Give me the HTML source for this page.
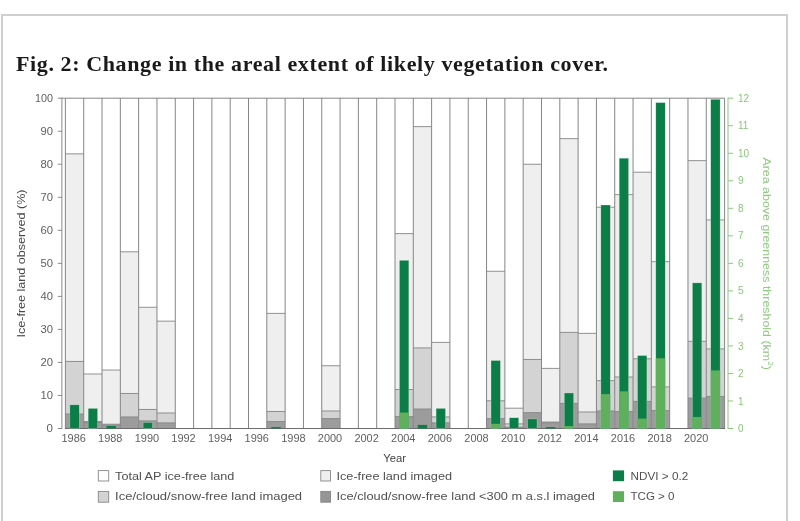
<!DOCTYPE html>
<html><head><meta charset="utf-8"><title>Fig. 2</title>
<style>
html,body{margin:0;padding:0;background:#fff;}
body{width:800px;height:521px;overflow:hidden;position:relative;font-family:"Liberation Sans",sans-serif;}
.frame{position:absolute;left:1px;top:14px;width:783px;height:600px;border:2px solid #cfcfcf;box-sizing:content-box;}
h1{position:absolute;left:16px;top:51px;margin:0;font-family:"Liberation Serif",serif;font-weight:bold;font-size:22px;line-height:26px;color:#1a1a1a;white-space:nowrap;letter-spacing:0.61px;will-change:transform;opacity:0.999;}
</style></head><body>
<div class="frame"></div>
<h1 id="ttl">Fig. 2: Change in the areal extent of likely vegetation cover.</h1>
<svg width="800" height="521" viewBox="0 0 800 521" style="position:absolute;left:0;top:0;will-change:transform;opacity:0.999">
<g shape-rendering="auto">
<rect x="65.4" y="153.86" width="18.31" height="274.64" fill="#efefef"/>
<rect x="65.4" y="361.45" width="18.31" height="67.05" fill="#d3d3d3"/>
<rect x="65.4" y="413.97" width="18.31" height="14.53" fill="#9c9c9c"/>
<line x1="65.4" y1="153.86" x2="83.71" y2="153.86" stroke="#868686" stroke-width="0.9"/>
<line x1="65.4" y1="361.45" x2="83.71" y2="361.45" stroke="#868686" stroke-width="0.9"/>
<line x1="65.4" y1="413.97" x2="83.71" y2="413.97" stroke="#868686" stroke-width="0.9"/>
<rect x="83.71" y="374" width="18.31" height="54.5" fill="#efefef"/>
<rect x="83.71" y="421.56" width="18.31" height="6.94" fill="#d3d3d3"/>
<rect x="83.71" y="422.55" width="18.31" height="5.95" fill="#9c9c9c"/>
<line x1="83.71" y1="374" x2="102.02" y2="374" stroke="#868686" stroke-width="0.9"/>
<line x1="83.71" y1="421.56" x2="102.02" y2="421.56" stroke="#868686" stroke-width="0.9"/>
<line x1="83.71" y1="422.55" x2="102.02" y2="422.55" stroke="#868686" stroke-width="0.9"/>
<rect x="102.02" y="370.04" width="18.31" height="58.46" fill="#efefef"/>
<rect x="102.02" y="424.21" width="18.31" height="4.29" fill="#d3d3d3"/>
<rect x="102.02" y="425" width="18.31" height="3.5" fill="#9c9c9c"/>
<line x1="102.02" y1="370.04" x2="120.33" y2="370.04" stroke="#868686" stroke-width="0.9"/>
<line x1="102.02" y1="424.21" x2="120.33" y2="424.21" stroke="#868686" stroke-width="0.9"/>
<line x1="102.02" y1="425" x2="120.33" y2="425" stroke="#868686" stroke-width="0.9"/>
<rect x="120.33" y="251.79" width="18.31" height="176.71" fill="#efefef"/>
<rect x="120.33" y="393.49" width="18.31" height="35.01" fill="#d3d3d3"/>
<rect x="120.33" y="416.94" width="18.31" height="11.56" fill="#9c9c9c"/>
<line x1="120.33" y1="251.79" x2="138.64" y2="251.79" stroke="#868686" stroke-width="0.9"/>
<line x1="120.33" y1="393.49" x2="138.64" y2="393.49" stroke="#868686" stroke-width="0.9"/>
<line x1="120.33" y1="416.94" x2="138.64" y2="416.94" stroke="#868686" stroke-width="0.9"/>
<rect x="138.64" y="307.28" width="18.31" height="121.22" fill="#efefef"/>
<rect x="138.64" y="409.47" width="18.31" height="19.03" fill="#d3d3d3"/>
<rect x="138.64" y="420.9" width="18.31" height="7.6" fill="#9c9c9c"/>
<line x1="138.64" y1="307.28" x2="156.96" y2="307.28" stroke="#868686" stroke-width="0.9"/>
<line x1="138.64" y1="409.47" x2="156.96" y2="409.47" stroke="#868686" stroke-width="0.9"/>
<line x1="138.64" y1="420.9" x2="156.96" y2="420.9" stroke="#868686" stroke-width="0.9"/>
<rect x="156.96" y="321.15" width="18.31" height="107.35" fill="#efefef"/>
<rect x="156.96" y="412.98" width="18.31" height="15.52" fill="#d3d3d3"/>
<rect x="156.96" y="422.88" width="18.31" height="5.62" fill="#9c9c9c"/>
<line x1="156.96" y1="321.15" x2="175.27" y2="321.15" stroke="#868686" stroke-width="0.9"/>
<line x1="156.96" y1="412.98" x2="175.27" y2="412.98" stroke="#868686" stroke-width="0.9"/>
<line x1="156.96" y1="422.88" x2="175.27" y2="422.88" stroke="#868686" stroke-width="0.9"/>
<rect x="266.82" y="313.39" width="18.31" height="115.11" fill="#efefef"/>
<rect x="266.82" y="411.49" width="18.31" height="17.01" fill="#d3d3d3"/>
<rect x="266.82" y="421.56" width="18.31" height="6.94" fill="#9c9c9c"/>
<line x1="266.82" y1="313.39" x2="285.13" y2="313.39" stroke="#868686" stroke-width="0.9"/>
<line x1="266.82" y1="411.49" x2="285.13" y2="411.49" stroke="#868686" stroke-width="0.9"/>
<line x1="266.82" y1="421.56" x2="285.13" y2="421.56" stroke="#868686" stroke-width="0.9"/>
<rect x="321.75" y="365.74" width="18.31" height="62.76" fill="#efefef"/>
<rect x="321.75" y="410.99" width="18.31" height="17.51" fill="#d3d3d3"/>
<rect x="321.75" y="418.59" width="18.31" height="9.91" fill="#9c9c9c"/>
<line x1="321.75" y1="365.74" x2="340.06" y2="365.74" stroke="#868686" stroke-width="0.9"/>
<line x1="321.75" y1="410.99" x2="340.06" y2="410.99" stroke="#868686" stroke-width="0.9"/>
<line x1="321.75" y1="418.59" x2="340.06" y2="418.59" stroke="#868686" stroke-width="0.9"/>
<rect x="395" y="233.62" width="18.31" height="194.88" fill="#efefef"/>
<rect x="395" y="389.52" width="18.31" height="38.98" fill="#d3d3d3"/>
<rect x="395" y="416.61" width="18.31" height="11.89" fill="#9c9c9c"/>
<line x1="395" y1="233.62" x2="413.31" y2="233.62" stroke="#868686" stroke-width="0.9"/>
<line x1="395" y1="389.52" x2="413.31" y2="389.52" stroke="#868686" stroke-width="0.9"/>
<line x1="395" y1="416.61" x2="413.31" y2="416.61" stroke="#868686" stroke-width="0.9"/>
<rect x="413.31" y="126.61" width="18.31" height="301.89" fill="#efefef"/>
<rect x="413.31" y="347.91" width="18.31" height="80.59" fill="#d3d3d3"/>
<rect x="413.31" y="409.01" width="18.31" height="19.49" fill="#9c9c9c"/>
<line x1="413.31" y1="126.61" x2="431.62" y2="126.61" stroke="#868686" stroke-width="0.9"/>
<line x1="413.31" y1="347.91" x2="431.62" y2="347.91" stroke="#868686" stroke-width="0.9"/>
<line x1="413.31" y1="409.01" x2="431.62" y2="409.01" stroke="#868686" stroke-width="0.9"/>
<rect x="431.62" y="342.42" width="18.31" height="86.08" fill="#efefef"/>
<rect x="431.62" y="416.94" width="18.31" height="11.56" fill="#d3d3d3"/>
<rect x="431.62" y="422.88" width="18.31" height="5.62" fill="#9c9c9c"/>
<line x1="431.62" y1="342.42" x2="449.93" y2="342.42" stroke="#868686" stroke-width="0.9"/>
<line x1="431.62" y1="416.94" x2="449.93" y2="416.94" stroke="#868686" stroke-width="0.9"/>
<line x1="431.62" y1="422.88" x2="449.93" y2="422.88" stroke="#868686" stroke-width="0.9"/>
<rect x="486.55" y="271.28" width="18.31" height="157.22" fill="#efefef"/>
<rect x="486.55" y="400.75" width="18.31" height="27.75" fill="#d3d3d3"/>
<rect x="486.55" y="418.59" width="18.31" height="9.91" fill="#9c9c9c"/>
<line x1="486.55" y1="271.28" x2="504.86" y2="271.28" stroke="#868686" stroke-width="0.9"/>
<line x1="486.55" y1="400.75" x2="504.86" y2="400.75" stroke="#868686" stroke-width="0.9"/>
<line x1="486.55" y1="418.59" x2="504.86" y2="418.59" stroke="#868686" stroke-width="0.9"/>
<rect x="504.86" y="408.19" width="18.31" height="20.31" fill="#efefef"/>
<rect x="504.86" y="423.88" width="18.31" height="4.62" fill="#d3d3d3"/>
<rect x="504.86" y="427.18" width="18.31" height="1.32" fill="#9c9c9c"/>
<line x1="504.86" y1="408.19" x2="523.18" y2="408.19" stroke="#868686" stroke-width="0.9"/>
<line x1="504.86" y1="423.88" x2="523.18" y2="423.88" stroke="#868686" stroke-width="0.9"/>
<line x1="504.86" y1="427.18" x2="523.18" y2="427.18" stroke="#868686" stroke-width="0.9"/>
<rect x="523.17" y="164.26" width="18.31" height="264.24" fill="#efefef"/>
<rect x="523.17" y="359.47" width="18.31" height="69.03" fill="#d3d3d3"/>
<rect x="523.17" y="412.65" width="18.31" height="15.85" fill="#9c9c9c"/>
<line x1="523.17" y1="164.26" x2="541.49" y2="164.26" stroke="#868686" stroke-width="0.9"/>
<line x1="523.17" y1="359.47" x2="541.49" y2="359.47" stroke="#868686" stroke-width="0.9"/>
<line x1="523.17" y1="412.65" x2="541.49" y2="412.65" stroke="#868686" stroke-width="0.9"/>
<rect x="541.49" y="368.39" width="18.31" height="60.11" fill="#efefef"/>
<rect x="541.49" y="422.06" width="18.31" height="6.44" fill="#d3d3d3"/>
<rect x="541.49" y="422.72" width="18.31" height="5.78" fill="#9c9c9c"/>
<line x1="541.49" y1="368.39" x2="559.8" y2="368.39" stroke="#868686" stroke-width="0.9"/>
<line x1="541.49" y1="422.06" x2="559.8" y2="422.06" stroke="#868686" stroke-width="0.9"/>
<line x1="541.49" y1="422.72" x2="559.8" y2="422.72" stroke="#868686" stroke-width="0.9"/>
<rect x="559.8" y="138.63" width="18.31" height="289.87" fill="#efefef"/>
<rect x="559.8" y="332.38" width="18.31" height="96.12" fill="#d3d3d3"/>
<rect x="559.8" y="403.4" width="18.31" height="25.1" fill="#9c9c9c"/>
<line x1="559.8" y1="138.63" x2="578.11" y2="138.63" stroke="#868686" stroke-width="0.9"/>
<line x1="559.8" y1="332.38" x2="578.11" y2="332.38" stroke="#868686" stroke-width="0.9"/>
<line x1="559.8" y1="403.4" x2="578.11" y2="403.4" stroke="#868686" stroke-width="0.9"/>
<rect x="578.11" y="333.37" width="18.31" height="95.13" fill="#efefef"/>
<rect x="578.11" y="411.99" width="18.31" height="16.51" fill="#d3d3d3"/>
<rect x="578.11" y="423.88" width="18.31" height="4.62" fill="#9c9c9c"/>
<line x1="578.11" y1="333.37" x2="596.42" y2="333.37" stroke="#868686" stroke-width="0.9"/>
<line x1="578.11" y1="411.99" x2="596.42" y2="411.99" stroke="#868686" stroke-width="0.9"/>
<line x1="578.11" y1="423.88" x2="596.42" y2="423.88" stroke="#868686" stroke-width="0.9"/>
<rect x="596.42" y="207.2" width="18.31" height="221.3" fill="#efefef"/>
<rect x="596.42" y="380.61" width="18.31" height="47.89" fill="#d3d3d3"/>
<rect x="596.42" y="410.99" width="18.31" height="17.51" fill="#9c9c9c"/>
<line x1="596.42" y1="207.2" x2="614.73" y2="207.2" stroke="#868686" stroke-width="0.9"/>
<line x1="596.42" y1="380.61" x2="614.73" y2="380.61" stroke="#868686" stroke-width="0.9"/>
<line x1="596.42" y1="410.99" x2="614.73" y2="410.99" stroke="#868686" stroke-width="0.9"/>
<rect x="614.73" y="194.65" width="18.31" height="233.85" fill="#efefef"/>
<rect x="614.73" y="376.97" width="18.31" height="51.53" fill="#d3d3d3"/>
<rect x="614.73" y="411.49" width="18.31" height="17.01" fill="#9c9c9c"/>
<line x1="614.73" y1="194.65" x2="633.04" y2="194.65" stroke="#868686" stroke-width="0.9"/>
<line x1="614.73" y1="376.97" x2="633.04" y2="376.97" stroke="#868686" stroke-width="0.9"/>
<line x1="614.73" y1="411.49" x2="633.04" y2="411.49" stroke="#868686" stroke-width="0.9"/>
<rect x="633.04" y="172.19" width="18.31" height="256.31" fill="#efefef"/>
<rect x="633.04" y="358.81" width="18.31" height="69.69" fill="#d3d3d3"/>
<rect x="633.04" y="401.42" width="18.31" height="27.08" fill="#9c9c9c"/>
<line x1="633.04" y1="172.19" x2="651.35" y2="172.19" stroke="#868686" stroke-width="0.9"/>
<line x1="633.04" y1="358.81" x2="651.35" y2="358.81" stroke="#868686" stroke-width="0.9"/>
<line x1="633.04" y1="401.42" x2="651.35" y2="401.42" stroke="#868686" stroke-width="0.9"/>
<rect x="651.35" y="261.7" width="18.31" height="166.8" fill="#efefef"/>
<rect x="651.35" y="386.88" width="18.31" height="41.62" fill="#d3d3d3"/>
<rect x="651.35" y="410.5" width="18.31" height="18" fill="#9c9c9c"/>
<line x1="651.35" y1="261.7" x2="669.66" y2="261.7" stroke="#868686" stroke-width="0.9"/>
<line x1="651.35" y1="386.88" x2="669.66" y2="386.88" stroke="#868686" stroke-width="0.9"/>
<line x1="651.35" y1="410.5" x2="669.66" y2="410.5" stroke="#868686" stroke-width="0.9"/>
<rect x="687.97" y="160.63" width="18.31" height="267.87" fill="#efefef"/>
<rect x="687.97" y="341.3" width="18.31" height="87.2" fill="#d3d3d3"/>
<rect x="687.97" y="398.11" width="18.31" height="30.39" fill="#9c9c9c"/>
<line x1="687.97" y1="160.63" x2="706.28" y2="160.63" stroke="#868686" stroke-width="0.9"/>
<line x1="687.97" y1="341.3" x2="706.28" y2="341.3" stroke="#868686" stroke-width="0.9"/>
<line x1="687.97" y1="398.11" x2="706.28" y2="398.11" stroke="#868686" stroke-width="0.9"/>
<rect x="706.28" y="219.92" width="18.31" height="208.58" fill="#efefef"/>
<rect x="706.28" y="348.9" width="18.31" height="79.6" fill="#d3d3d3"/>
<rect x="706.28" y="396.46" width="18.31" height="32.04" fill="#9c9c9c"/>
<line x1="706.28" y1="219.92" x2="724.6" y2="219.92" stroke="#868686" stroke-width="0.9"/>
<line x1="706.28" y1="348.9" x2="724.6" y2="348.9" stroke="#868686" stroke-width="0.9"/>
<line x1="706.28" y1="396.46" x2="724.6" y2="396.46" stroke="#868686" stroke-width="0.9"/>
</g>
<g fill="none" stroke="#868686" stroke-width="1">
<line x1="65.4" y1="98.2" x2="65.4" y2="428.5"/>
<line x1="83.71" y1="98.2" x2="83.71" y2="428.5"/>
<line x1="102.02" y1="98.2" x2="102.02" y2="428.5"/>
<line x1="120.33" y1="98.2" x2="120.33" y2="428.5"/>
<line x1="138.64" y1="98.2" x2="138.64" y2="428.5"/>
<line x1="156.96" y1="98.2" x2="156.96" y2="428.5"/>
<line x1="175.27" y1="98.2" x2="175.27" y2="428.5"/>
<line x1="193.58" y1="98.2" x2="193.58" y2="428.5"/>
<line x1="211.89" y1="98.2" x2="211.89" y2="428.5"/>
<line x1="230.2" y1="98.2" x2="230.2" y2="428.5"/>
<line x1="248.51" y1="98.2" x2="248.51" y2="428.5"/>
<line x1="266.82" y1="98.2" x2="266.82" y2="428.5"/>
<line x1="285.13" y1="98.2" x2="285.13" y2="428.5"/>
<line x1="303.44" y1="98.2" x2="303.44" y2="428.5"/>
<line x1="321.75" y1="98.2" x2="321.75" y2="428.5"/>
<line x1="340.07" y1="98.2" x2="340.07" y2="428.5"/>
<line x1="358.38" y1="98.2" x2="358.38" y2="428.5"/>
<line x1="376.69" y1="98.2" x2="376.69" y2="428.5"/>
<line x1="395" y1="98.2" x2="395" y2="428.5"/>
<line x1="413.31" y1="98.2" x2="413.31" y2="428.5"/>
<line x1="431.62" y1="98.2" x2="431.62" y2="428.5"/>
<line x1="449.93" y1="98.2" x2="449.93" y2="428.5"/>
<line x1="468.24" y1="98.2" x2="468.24" y2="428.5"/>
<line x1="486.55" y1="98.2" x2="486.55" y2="428.5"/>
<line x1="504.86" y1="98.2" x2="504.86" y2="428.5"/>
<line x1="523.17" y1="98.2" x2="523.17" y2="428.5"/>
<line x1="541.49" y1="98.2" x2="541.49" y2="428.5"/>
<line x1="559.8" y1="98.2" x2="559.8" y2="428.5"/>
<line x1="578.11" y1="98.2" x2="578.11" y2="428.5"/>
<line x1="596.42" y1="98.2" x2="596.42" y2="428.5"/>
<line x1="614.73" y1="98.2" x2="614.73" y2="428.5"/>
<line x1="633.04" y1="98.2" x2="633.04" y2="428.5"/>
<line x1="651.35" y1="98.2" x2="651.35" y2="428.5"/>
<line x1="669.66" y1="98.2" x2="669.66" y2="428.5"/>
<line x1="687.97" y1="98.2" x2="687.97" y2="428.5"/>
<line x1="706.28" y1="98.2" x2="706.28" y2="428.5"/>
<line x1="724.6" y1="98.2" x2="724.6" y2="428.5"/>
<line x1="65.4" y1="98.2" x2="724.6" y2="98.2"/>
<line x1="64.9" y1="428.5" x2="725.1" y2="428.5" stroke="#6c6c6c"/>
</g>
<rect x="69.86" y="404.83" width="9.4" height="23.67" fill="#0b7d46" stroke="#e6f3ea" stroke-opacity="0.55" stroke-width="0.5"/>
<rect x="88.17" y="408.41" width="9.4" height="20.09" fill="#0b7d46" stroke="#e6f3ea" stroke-opacity="0.55" stroke-width="0.5"/>
<rect x="106.48" y="426.02" width="9.4" height="2.48" fill="#0b7d46" stroke="#e6f3ea" stroke-opacity="0" stroke-width="0.5"/>
<rect x="143.1" y="422.44" width="9.4" height="6.06" fill="#0b7d46" stroke="#e6f3ea" stroke-opacity="0.55" stroke-width="0.5"/>
<rect x="271.28" y="427.12" width="9.4" height="1.38" fill="#0b7d46" stroke="#e6f3ea" stroke-opacity="0" stroke-width="0.5"/>
<rect x="399.45" y="260.32" width="9.4" height="168.18" fill="#0b7d46" stroke="#e6f3ea" stroke-opacity="0.55" stroke-width="0.5"/>
<rect x="399.45" y="412.54" width="9.4" height="15.96" fill="#5fb05c"/>
<rect x="417.76" y="424.92" width="9.4" height="3.58" fill="#0b7d46" stroke="#e6f3ea" stroke-opacity="0" stroke-width="0.5"/>
<rect x="436.08" y="408.41" width="9.4" height="20.09" fill="#0b7d46" stroke="#e6f3ea" stroke-opacity="0.55" stroke-width="0.5"/>
<rect x="491.01" y="360.51" width="9.4" height="67.99" fill="#0b7d46" stroke="#e6f3ea" stroke-opacity="0.55" stroke-width="0.5"/>
<rect x="491.01" y="423.82" width="9.4" height="4.68" fill="#5fb05c"/>
<rect x="509.32" y="417.77" width="9.4" height="10.73" fill="#0b7d46" stroke="#e6f3ea" stroke-opacity="0.55" stroke-width="0.5"/>
<rect x="527.63" y="418.87" width="9.4" height="9.63" fill="#0b7d46" stroke="#e6f3ea" stroke-opacity="0.55" stroke-width="0.5"/>
<rect x="545.94" y="427.12" width="9.4" height="1.38" fill="#0b7d46" stroke="#e6f3ea" stroke-opacity="0" stroke-width="0.5"/>
<rect x="564.25" y="392.99" width="9.4" height="35.51" fill="#0b7d46" stroke="#e6f3ea" stroke-opacity="0.55" stroke-width="0.5"/>
<rect x="564.25" y="426.02" width="9.4" height="2.48" fill="#5fb05c"/>
<rect x="600.87" y="205" width="9.4" height="223.5" fill="#0b7d46" stroke="#e6f3ea" stroke-opacity="0.55" stroke-width="0.5"/>
<rect x="600.87" y="394.09" width="9.4" height="34.41" fill="#5fb05c"/>
<rect x="619.19" y="158.2" width="9.4" height="270.3" fill="#0b7d46" stroke="#e6f3ea" stroke-opacity="0.55" stroke-width="0.5"/>
<rect x="619.19" y="391.34" width="9.4" height="37.16" fill="#5fb05c"/>
<rect x="637.5" y="355.56" width="9.4" height="72.94" fill="#0b7d46" stroke="#e6f3ea" stroke-opacity="0.55" stroke-width="0.5"/>
<rect x="637.5" y="418.59" width="9.4" height="9.91" fill="#5fb05c"/>
<rect x="655.81" y="102.6" width="9.4" height="325.9" fill="#0b7d46" stroke="#e6f3ea" stroke-opacity="0.55" stroke-width="0.5"/>
<rect x="655.81" y="358.31" width="9.4" height="70.19" fill="#5fb05c"/>
<rect x="692.43" y="282.89" width="9.4" height="145.61" fill="#0b7d46" stroke="#e6f3ea" stroke-opacity="0.55" stroke-width="0.5"/>
<rect x="692.43" y="416.94" width="9.4" height="11.56" fill="#5fb05c"/>
<rect x="710.74" y="99.3" width="9.4" height="329.2" fill="#0b7d46" stroke="#e6f3ea" stroke-opacity="0.55" stroke-width="0.5"/>
<rect x="710.74" y="370.42" width="9.4" height="58.08" fill="#5fb05c"/>
<g stroke="#8a8a8a" stroke-width="1" fill="none">
<line x1="61.9" y1="97.7" x2="61.9" y2="429"/>
<line x1="57.8" y1="428.5" x2="62" y2="428.5"/>
<line x1="57.8" y1="395.47" x2="62" y2="395.47"/>
<line x1="57.8" y1="362.44" x2="62" y2="362.44"/>
<line x1="57.8" y1="329.41" x2="62" y2="329.41"/>
<line x1="57.8" y1="296.38" x2="62" y2="296.38"/>
<line x1="57.8" y1="263.35" x2="62" y2="263.35"/>
<line x1="57.8" y1="230.32" x2="62" y2="230.32"/>
<line x1="57.8" y1="197.29" x2="62" y2="197.29"/>
<line x1="57.8" y1="164.26" x2="62" y2="164.26"/>
<line x1="57.8" y1="131.23" x2="62" y2="131.23"/>
<line x1="57.8" y1="98.2" x2="65.4" y2="98.2"/>
</g>
<g font-family="Liberation Sans, sans-serif" font-size="10.5" fill="#606060" text-anchor="end">
<text x="52.9" y="432.2" textLength="6.4" lengthAdjust="spacingAndGlyphs">0</text>
<text x="52.9" y="399.17" textLength="12.5" lengthAdjust="spacingAndGlyphs">10</text>
<text x="52.9" y="366.14" textLength="12.5" lengthAdjust="spacingAndGlyphs">20</text>
<text x="52.9" y="333.11" textLength="12.5" lengthAdjust="spacingAndGlyphs">30</text>
<text x="52.9" y="300.08" textLength="12.5" lengthAdjust="spacingAndGlyphs">40</text>
<text x="52.9" y="267.05" textLength="12.5" lengthAdjust="spacingAndGlyphs">50</text>
<text x="52.9" y="234.02" textLength="12.5" lengthAdjust="spacingAndGlyphs">60</text>
<text x="52.9" y="200.99" textLength="12.5" lengthAdjust="spacingAndGlyphs">70</text>
<text x="52.9" y="167.96" textLength="12.5" lengthAdjust="spacingAndGlyphs">80</text>
<text x="52.9" y="134.93" textLength="12.5" lengthAdjust="spacingAndGlyphs">90</text>
<text x="52.9" y="101.9" textLength="18" lengthAdjust="spacingAndGlyphs">100</text>
</g>
<g stroke="#8cc67e" stroke-width="1" fill="none">
<line x1="728" y1="97.7" x2="728" y2="429"/>
<line x1="728" y1="428.5" x2="733" y2="428.5"/>
<line x1="728" y1="400.98" x2="733" y2="400.98"/>
<line x1="728" y1="373.45" x2="733" y2="373.45"/>
<line x1="728" y1="345.93" x2="733" y2="345.93"/>
<line x1="728" y1="318.4" x2="733" y2="318.4"/>
<line x1="728" y1="290.88" x2="733" y2="290.88"/>
<line x1="728" y1="263.35" x2="733" y2="263.35"/>
<line x1="728" y1="235.82" x2="733" y2="235.82"/>
<line x1="728" y1="208.3" x2="733" y2="208.3"/>
<line x1="728" y1="180.77" x2="733" y2="180.77"/>
<line x1="728" y1="153.25" x2="733" y2="153.25"/>
<line x1="728" y1="125.72" x2="733" y2="125.72"/>
<line x1="728" y1="98.2" x2="733" y2="98.2"/>
</g>
<g font-family="Liberation Sans, sans-serif" font-size="10" fill="#8ac67c" text-anchor="start">
<text x="738" y="432.1">0</text>
<text x="738" y="404.58">1</text>
<text x="738" y="377.05">2</text>
<text x="738" y="349.53">3</text>
<text x="738" y="322">4</text>
<text x="738" y="294.48">5</text>
<text x="738" y="266.95">6</text>
<text x="738" y="239.42">7</text>
<text x="738" y="211.9">8</text>
<text x="738" y="184.37">9</text>
<text x="738" y="156.85">10</text>
<text x="738" y="129.32">11</text>
<text x="738" y="101.8">12</text>
</g>
<g font-family="Liberation Sans, sans-serif" font-size="10.2" fill="#606060" text-anchor="middle">
<text x="73.66" y="442.2" textLength="24.4" lengthAdjust="spacingAndGlyphs">1986</text>
<text x="110.28" y="442.2" textLength="24.4" lengthAdjust="spacingAndGlyphs">1988</text>
<text x="146.9" y="442.2" textLength="24.4" lengthAdjust="spacingAndGlyphs">1990</text>
<text x="183.52" y="442.2" textLength="24.4" lengthAdjust="spacingAndGlyphs">1992</text>
<text x="220.14" y="442.2" textLength="24.4" lengthAdjust="spacingAndGlyphs">1994</text>
<text x="256.77" y="442.2" textLength="24.4" lengthAdjust="spacingAndGlyphs">1996</text>
<text x="293.39" y="442.2" textLength="24.4" lengthAdjust="spacingAndGlyphs">1998</text>
<text x="330.01" y="442.2" textLength="24.4" lengthAdjust="spacingAndGlyphs">2000</text>
<text x="366.63" y="442.2" textLength="24.4" lengthAdjust="spacingAndGlyphs">2002</text>
<text x="403.25" y="442.2" textLength="24.4" lengthAdjust="spacingAndGlyphs">2004</text>
<text x="439.88" y="442.2" textLength="24.4" lengthAdjust="spacingAndGlyphs">2006</text>
<text x="476.5" y="442.2" textLength="24.4" lengthAdjust="spacingAndGlyphs">2008</text>
<text x="513.12" y="442.2" textLength="24.4" lengthAdjust="spacingAndGlyphs">2010</text>
<text x="549.74" y="442.2" textLength="24.4" lengthAdjust="spacingAndGlyphs">2012</text>
<text x="586.36" y="442.2" textLength="24.4" lengthAdjust="spacingAndGlyphs">2014</text>
<text x="622.99" y="442.2" textLength="24.4" lengthAdjust="spacingAndGlyphs">2016</text>
<text x="659.61" y="442.2" textLength="24.4" lengthAdjust="spacingAndGlyphs">2018</text>
<text x="696.23" y="442.2" textLength="24.4" lengthAdjust="spacingAndGlyphs">2020</text>
</g>
<text x="394.6" y="461.6" font-family="Liberation Sans, sans-serif" font-size="11.4" fill="#444" text-anchor="middle" textLength="22.8" lengthAdjust="spacingAndGlyphs">Year</text>
<text transform="translate(24.6,263.5) rotate(-90)" font-family="Liberation Sans, sans-serif" font-size="11.5" fill="#4a4a4a" text-anchor="middle" textLength="148" lengthAdjust="spacingAndGlyphs">Ice-free land observed (%)</text>
<text transform="translate(762.8,263.6) rotate(90)" font-family="Liberation Sans, sans-serif" font-size="11.5" fill="#90ca82" text-anchor="middle" textLength="212.4" lengthAdjust="spacingAndGlyphs">Area above greenness threshold (km<tspan font-size="7.5" dy="-4.8">2</tspan><tspan dy="4.8">)</tspan></text>
<rect x="98.3" y="470.6" width="10.4" height="10.4" fill="#ffffff" stroke="#888" stroke-width="0.9"/>
<text x="115.1" y="479.7" font-family="Liberation Sans, sans-serif" font-size="11.7" fill="#505050" textLength="119.2" lengthAdjust="spacingAndGlyphs">Total AP ice-free land</text>
<rect x="98.3" y="491.4" width="10.4" height="10.8" fill="#d3d3d3" stroke="#888" stroke-width="0.9"/>
<text x="115.1" y="500" font-family="Liberation Sans, sans-serif" font-size="11.7" fill="#505050" textLength="187" lengthAdjust="spacingAndGlyphs">Ice/cloud/snow-free land imaged</text>
<rect x="320.8" y="470.6" width="9.7" height="10.4" fill="#efefef" stroke="#888" stroke-width="0.9"/>
<text x="336.5" y="479.7" font-family="Liberation Sans, sans-serif" font-size="11.7" fill="#505050" textLength="115.5" lengthAdjust="spacingAndGlyphs">Ice-free land imaged</text>
<rect x="320.8" y="491.4" width="9.7" height="10.8" fill="#959595" stroke="#858585" stroke-width="0.9"/>
<text x="336.5" y="500" font-family="Liberation Sans, sans-serif" font-size="11.7" fill="#505050" textLength="258.5" lengthAdjust="spacingAndGlyphs">Ice/cloud/snow-free land &lt;300 m a.s.l imaged</text>
<rect x="612.9" y="470.4" width="11.2" height="10.8" fill="#0b7d46"/>
<text x="630.5" y="479.7" font-family="Liberation Sans, sans-serif" font-size="11.7" fill="#505050" textLength="57.8" lengthAdjust="spacingAndGlyphs">NDVI &gt; 0.2</text>
<rect x="612.9" y="491.2" width="11.2" height="10.8" fill="#5fb05c"/>
<text x="630.5" y="500.2" font-family="Liberation Sans, sans-serif" font-size="11.7" fill="#505050" textLength="44" lengthAdjust="spacingAndGlyphs">TCG &gt; 0</text>
</svg>
</body></html>
